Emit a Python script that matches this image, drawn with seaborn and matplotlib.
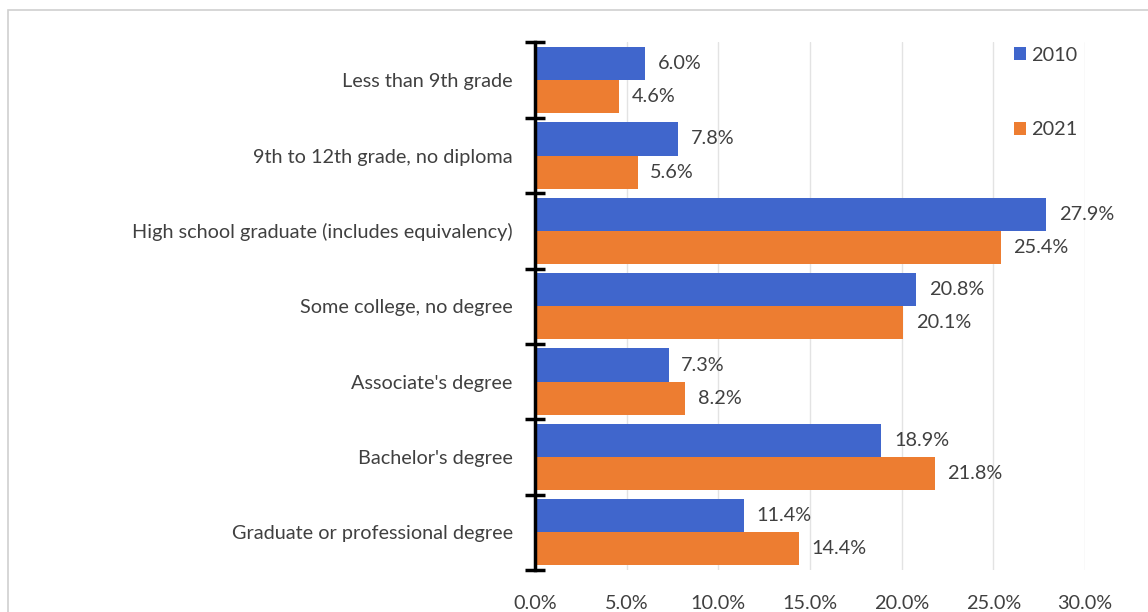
import matplotlib
matplotlib.use("Agg")
import matplotlib.pyplot as plt
import seaborn as sns
import pandas as pd
from matplotlib.patches import Rectangle
from matplotlib.ticker import FixedLocator

categories = [
    "Less than 9th grade",
    "9th to 12th grade, no diploma",
    "High school graduate (includes equivalency)",
    "Some college, no degree",
    "Associate's degree",
    "Bachelor's degree",
    "Graduate or professional degree",
]
values_2010 = [6.0, 7.8, 27.9, 20.8, 7.3, 18.9, 11.4]
values_2021 = [4.6, 5.6, 25.4, 20.1, 8.2, 21.8, 14.4]
series_names = ["2010", "2021"]
x_ticks = [0, 5, 10, 15, 20, 25, 30]

df = pd.DataFrame({
    "category": categories * 2,
    "value": values_2010 + values_2021,
    "year": [series_names[0]] * len(categories) + [series_names[1]] * len(categories),
})

sns.set_style("white")
plt.rcParams["font.family"] = ["Lato", "DejaVu Sans"]

text_color = "#404040"
fs = 14.3
fig = plt.figure(figsize=(11.48, 6.12), dpi=100)
ax = fig.add_axes([0.466, 0.0686, 0.479, 0.862])

palette = {"2010": "#4066CC", "2021": "#ED7D31"}
sns.barplot(data=df, y="category", x="value", hue="year", palette=palette,
            orient="h", width=0.88, ax=ax, saturation=1, gap=0, linewidth=0)

for cont in ax.containers:
    ax.bar_label(cont, labels=[f"{v:.1f}%" for v in cont.datavalues],
                 padding=9, fontsize=fs, color=text_color)

ax.set_xlim(0, 30)
ax.set_ylim(len(categories) - 0.5, -0.5)
ax.set_xticks(x_ticks)
ax.set_xticklabels([f"{t:.1f}%" for t in x_ticks], fontsize=fs, color=text_color)
ax.tick_params(axis="x", length=0, pad=18)
ax.xaxis.grid(True, color="#E3E3E3", linewidth=1)
ax.set_axisbelow(True)

# y: major ticks at category boundaries, labels at centers
ax.yaxis.set_major_locator(FixedLocator([i - 0.5 for i in range(len(categories) + 1)]))
ax.yaxis.set_minor_locator(FixedLocator(list(range(len(categories)))))
ax.set_yticklabels([""] * (len(categories) + 1))
ax.set_yticklabels(categories, minor=True, fontsize=fs, color=text_color)
ax.tick_params(axis="y", which="major", left=True, direction="inout", length=14,
               width=2.5, color="black")
ax.tick_params(axis="y", which="minor", left=True, length=0, pad=16)

for s in ["top", "right", "bottom"]:
    ax.spines[s].set_visible(False)
ax.spines["left"].set_linewidth(2.5)
ax.spines["left"].set_color("black")

ax.set_xlabel("")
ax.set_ylabel("")

leg = ax.legend(loc="upper left", bbox_to_anchor=(0.838, 1.026), frameon=False,
                labelspacing=2.9, handlelength=0.6, handleheight=0.6,
                handletextpad=0.25, fontsize=fs)
for t in leg.get_texts():
    t.set_color(text_color)

fig.patches.append(Rectangle((8 / 1148, -0.01), 1.2, 1 - 10 / 612 + 0.01,
                             transform=fig.transFigure, fill=False,
                             edgecolor="#D0D0D0", linewidth=1.2))

fig.savefig("out.png", dpi=100)
